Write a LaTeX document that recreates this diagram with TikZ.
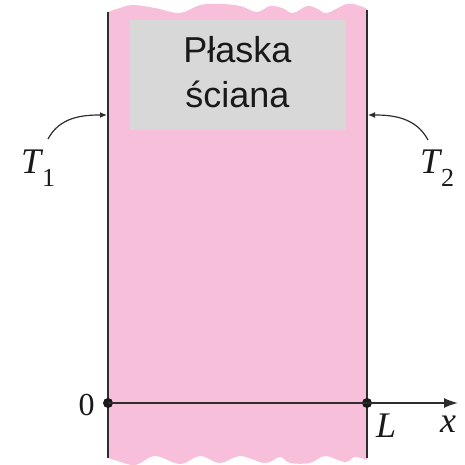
\documentclass[tikz,border=0pt]{standalone}
\usepackage{fontspec}
\newfontfamily\arialf{Liberation Sans}
\newfontfamily\timesf{Liberation Serif}
\usetikzlibrary{arrows.meta}
\definecolor{wallpink}{RGB}{247,191,217}
\definecolor{boxgray}{RGB}{216,216,216}
\definecolor{linegray}{RGB}{45,45,45}
\tikzset{
  wall/.style={draw=linegray, line width=1.7pt},
  lbl/.style={inner sep=0pt, text=black!90},
  dot/.style={circle, fill=black!90, inner sep=0pt, minimum size=10pt},
  tarrow/.style={draw=linegray, line width=1.2pt, -{Latex[length=7pt,width=6pt]}},
  axis/.style={draw=linegray, line width=1.7pt, -{Latex[length=14pt,width=10pt]}},
  boxtext/.style={inner sep=0pt, font=\arialf\fontsize{36}{40}\selectfont, text=black!90}
}
\newcommand{\bigit}[1]{{\timesf\itshape\fontsize{36}{40}\selectfont #1}}
\newcommand{\subdig}[1]{\raisebox{-13pt}{\timesf\fontsize{26}{30}\selectfont #1}}
\begin{document}
\begin{tikzpicture}[x=1pt,y=-1pt]
\useasboundingbox (0,0) rectangle (464,465);
% pink wall with wavy ends
\fill[wallpink] (108,12) -- plot[smooth, tension=0.6] coordinates {(108,12) (120,8) (133,5) (155,8) (180,13) (200,5) (220,4) (240,6) (257,12) (270,6) (282,8) (293,13) (307,6) (318,9) (327,13) (347,4) (360,6) (367,9)}
  -- (367,460) -- plot[smooth, tension=0.6] coordinates {(367,460) (355,457) (345,462) (325,456) (310,463) (290,463) (280,457) (265,463) (240,456) (220,463) (200,456) (180,464) (155,456) (135,465) (115,460) (108,458)} -- cycle;
% gray label box
\node[fill=boxgray, minimum width=216pt, minimum height=110pt, inner sep=0pt, anchor=north west] (box) at (130,20) {};
\node[boxtext, anchor=base] (t1a) at (237.5,63) {Płaska};
\node[boxtext, anchor=base] (t1b) at (237.5,108) {ściana};
% walls
\coordinate (wl1) at (108,12);
\coordinate (wl2) at (108,458);
\coordinate (wr1) at (367,10);
\coordinate (wr2) at (367,458);
\draw[wall] (wl1) -- (wl2);
\draw[wall] (wr1) -- (wr2);
% temperature labels
\node[lbl, anchor=base west] (T1) at (21,173) {\bigit{T}\kern1pt\subdig{1}};
\node[lbl, anchor=base west] (T2) at (420,173) {\bigit{T}\kern1pt\subdig{2}};
\coordinate (a1s) at (48,139);
\coordinate (a1e) at (107,115);
\coordinate (a2s) at (428,140);
\coordinate (a2e) at (368,115);
\draw[tarrow] (a1s) to[out=62, in=180] (a1e);
\draw[tarrow] (a2s) to[out=118, in=0] (a2e);
% x axis
\node[dot] (o) at (108,403) {};
\node[dot] (Lp) at (367,403) {};
\coordinate (xend) at (458,403);
\draw[axis] (o.center) -- (xend);
\node[lbl, anchor=base] (zero) at (86.5,415) {\timesf\fontsize{32}{36}\selectfont 0};
\node[lbl, anchor=base west] (Llab) at (376,437) {\bigit{L}};
\node[lbl, anchor=base west] (xlab) at (440,432) {\bigit{x}};
\end{tikzpicture}
\end{document}
